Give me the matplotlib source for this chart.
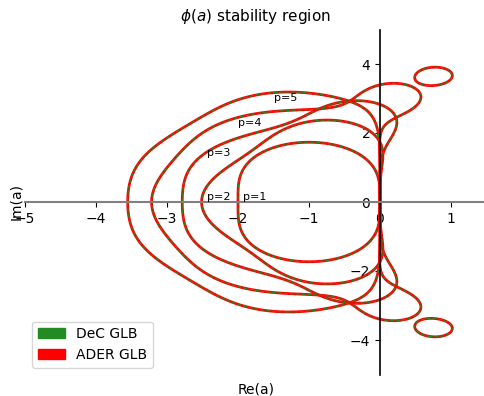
import numpy as np
import matplotlib
matplotlib.use("Agg")
import matplotlib.pyplot as plt
import matplotlib.patches as mpatches

# stability polynomial coefficients (truncated exponential series)
taylor_coeffs = [1.0, 1.0, 1 / 2, 1 / 6, 1 / 24, 1 / 120, 1 / 720]
orders = [1, 2, 3, 4, 5]
labels = ["p=1", "p=2", "p=3", "p=4", "p=5"]
label_x = [-1.93, -2.44, -2.44, -2.0, -1.49]
label_y = [0.0, 0.0, 1.28, 2.14, 2.88]

xr = np.linspace(-5, 1.5, 700)
yr = np.linspace(-5, 5, 900)
X, Y = np.meshgrid(xr, yr)
Z = X + 1j * Y

fig = plt.figure(figsize=(4.85, 3.96), dpi=100)
ax = fig.add_axes([25 / 485, 21.5 / 396, 461.5 / 485, 345 / 396])

for p in orders:
    coeffs = taylor_coeffs[:p + 2]
    R = np.zeros_like(Z)
    for k, c in enumerate(coeffs):
        R = R + c * Z ** k
    ax.contour(X, Y, np.abs(R), levels=[1.0], colors="red", linewidths=2.0)
    ax.contour(X, Y, np.abs(R), levels=[1.0], colors="forestgreen",
               linewidths=0.8, linestyles="dashed")

for lab, lx, ly in zip(labels, label_x, label_y):
    ax.text(lx, ly, lab, fontsize=8, ha="left", va="bottom")

ax.set_xlim(-5, 1.5)
ax.set_ylim(-5, 5)
ax.set_xticks([-5, -4, -3, -2, -1, 0, 1])
ax.set_yticks([-4, -2, 0, 2, 4])

ax.spines["left"].set_position(("data", 0))
ax.spines["bottom"].set_position(("data", 0))
ax.spines["bottom"].set_color("gray")
ax.spines["bottom"].set_linewidth(1.5)
ax.spines["left"].set_linewidth(1.2)
ax.spines["top"].set_visible(False)
ax.spines["right"].set_visible(False)

ax.set_title(r"$\phi(a)$ stability region", fontsize=11)
ax.set_xlabel("Re(a)")
ax.set_ylabel("Im(a)")
ax.xaxis.set_label_coords(0.5, -0.022)
ax.yaxis.set_label_coords(-0.004, 0.5)

handles = [mpatches.Patch(color="forestgreen", label="DeC GLB"),
           mpatches.Patch(color="red", label="ADER GLB")]
ax.legend(handles=handles, loc="lower left")

fig.savefig("out.png", dpi=100)
